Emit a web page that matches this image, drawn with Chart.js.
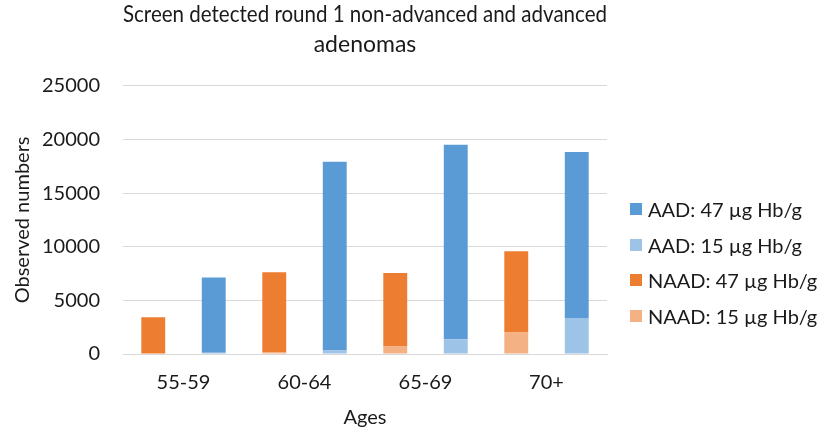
<!DOCTYPE html>
<html>
<head>
<meta charset="utf-8">
<script src="https://cdn.jsdelivr.net/npm/chart.js@4/dist/chart.umd.min.js"></script>
<style>
  body { margin: 0; background: #fff; }
  #wrap { position: relative; width: 827px; height: 432px; }
  #legend { position: absolute; left: 630px; top: 191px; font: 20px Lato, sans-serif; color: #1a1a1a; }
  #legend .it { height: 35.7px; display: flex; align-items: center; white-space: nowrap; }
  #legend .sw { width: 12px; height: 12px; margin-right: 6px; flex: none; }
</style>
</head>
<body>
<div id="wrap">
  <canvas id="chart" width="827" height="432"></canvas>
  <div id="legend"></div>
</div>
<script>
/* adenoma counts by age band — stacked: 15 µg part at the bottom, rest up to 47 µg on top */
const TEXT = '#1a1a1a', GRID = '#d9d9d9';
const ages = ['55-59', '60-64', '65-69', '70+'];

// heights of each stacked segment
const naad15 = [40, 150, 700, 2000];
const naad47 = [3380, 7470, 6850, 7580];
const aad15 = [110, 330, 1380, 3350];
const aad47 = [7010, 17590, 18130, 15470];

const yTicks = { min: 0, max: 25000, step: 5000 };

const font = { family: 'Lato', size: 20 };

const datasets = [
  { label: 'NAAD: 15 µg Hb/g', data: naad15, backgroundColor: '#f4b183', stack: 'naad' },
  { label: 'NAAD: 47 µg Hb/g', data: naad47, backgroundColor: '#ed7d31', stack: 'naad' },
  { label: 'AAD: 15 µg Hb/g', data: aad15, backgroundColor: '#9dc3e6', stack: 'aad' },
  { label: 'AAD: 47 µg Hb/g', data: aad47, backgroundColor: '#5b9bd5', stack: 'aad' },
];

new Chart(document.getElementById('chart'), {
  type: 'bar',
  data: { labels: ages, datasets: datasets.map(d => ({ ...d, borderWidth: 0, categoryPercentage: 1, barPercentage: 0.395 })) },
  options: {
    responsive: false, animation: false,
    layout: { padding: { left: 0, right: 220, top: 0, bottom: 0 } },
    plugins: {
      legend: { display: false },
      tooltip: { enabled: false },
      title: {
        display: true, fullSize: false,
        text: ['Screen detected round 1 non-advanced and advanced', 'adenomas'],
        color: TEXT, font: { family: 'Lato', size: 23, weight: 'normal', lineHeight: 1.3 },
        padding: { top: 0, bottom: 26 },
      },
    },
    scales: {
      x: {
        stacked: true,
        grid: { display: false, drawTicks: false },
        border: { color: GRID },
        ticks: { color: TEXT, font, padding: 17 },
        title: { display: true, text: 'Ages', color: TEXT, font, padding: { top: 0, bottom: 2 } },
        afterFit: s => { s.height = 78; },
      },
      y: {
        stacked: true, min: yTicks.min, max: yTicks.max,
        grid: { color: GRID, drawTicks: false },
        border: { display: false },
        ticks: { stepSize: yTicks.step, color: TEXT, font, padding: 23, callback: v => String(v) },
        title: { display: true, text: 'Observed numbers', color: TEXT, font, padding: { top: 11, bottom: 0 } },
        afterFit: s => { s.width = 123; },
      },
    },
  },
});

// legend in the order of the reference
const order = [3, 2, 1, 0];
document.getElementById('legend').innerHTML = order.map(i =>
  `<div class="it"><span class="sw" style="background:${datasets[i].backgroundColor}"></span>${datasets[i].label}</div>`).join('');
</script>
</body>
</html>
